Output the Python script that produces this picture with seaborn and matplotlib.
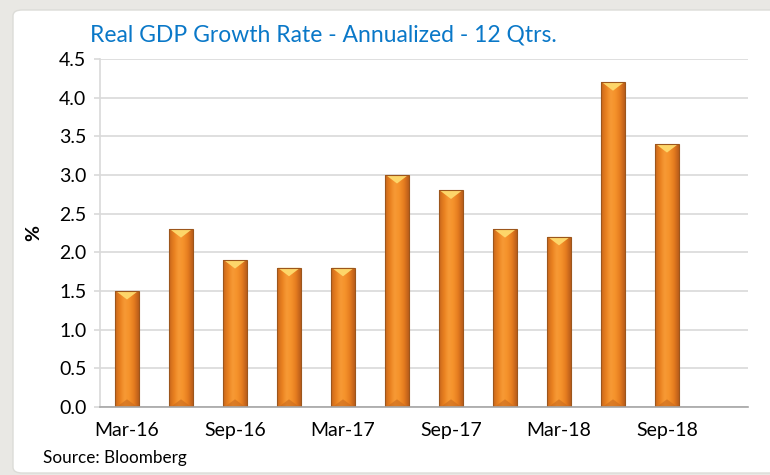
import matplotlib
matplotlib.use("Agg")
import matplotlib.pyplot as plt
import seaborn as sns
import numpy as np
import pandas as pd
from matplotlib.patches import FancyBboxPatch, Polygon
from matplotlib.colors import LinearSegmentedColormap

# ---- data ----
quarters = ["Mar-16", "Jun-16", "Sep-16", "Dec-16", "Mar-17", "Jun-17",
            "Sep-17", "Dec-17", "Mar-18", "Jun-18", "Sep-18", "Dec-18"]
gdp_growth = [1.5, 2.3, 1.9, 1.8, 1.8, 3.0, 2.8, 2.3, 2.2, 4.2, 3.4]
tick_labels = ["Mar-16", "", "Sep-16", "", "Mar-17", "", "Sep-17", "",
               "Mar-18", "", "Sep-18", ""]
title = "Real GDP Growth Rate - Annualized - 12 Qtrs."
source = "Source: Bloomberg"

sns.set_theme(style="white")
plt.rcParams["font.family"] = ["Lato", "DejaVu Sans"]

fig = plt.figure(figsize=(7.7, 4.75), dpi=100)
fig.patch.set_facecolor("#e9e8e4")
panel = FancyBboxPatch((13 / 770, 2 / 475), 770 / 770, 463 / 475,
                       boxstyle="round,pad=0,rounding_size=0.012",
                       transform=fig.transFigure, facecolor="white",
                       edgecolor="#dcdcd8", linewidth=1.0, zorder=-5)
fig.patches.append(panel)

ax = fig.add_axes([100 / 770, 1 - 407 / 475, 648 / 770, 348 / 475])
ax.set_facecolor("none")
ax.set_zorder(2)

df = pd.DataFrame({"q": quarters[:len(gdp_growth)], "v": gdp_growth})
sns.barplot(data=df, x="q", y="v", order=quarters[:len(gdp_growth)],
            color="#f28c28", width=0.43, ax=ax, zorder=3,
            edgecolor="#9c561c", linewidth=0.8)

# gradient fill + top highlight on each bar
cmap = LinearSegmentedColormap.from_list(
    "bar", ["#c9671d", "#e8801f", "#f79a35", "#f5922b", "#e57c1f", "#b95d1a"])
grad = np.linspace(0, 1, 64).reshape(1, -1)
for p in list(ax.patches):
    x0 = p.get_x(); w = p.get_width(); h = p.get_height()
    if not np.isfinite(h) or h <= 0:
        continue
    im = ax.imshow(grad, cmap=cmap, extent=[x0, x0 + w, 0, h],
                   aspect="auto", zorder=3.5, interpolation="bicubic")
    im.set_clip_path(p)
    tri = Polygon([[x0 + 0.02 * w, h], [x0 + 0.98 * w, h],
                   [x0 + w / 2, h - 0.11]], closed=True,
                  facecolor="#fdd66a", edgecolor="none", zorder=4)
    ax.add_patch(tri)
    tri2 = Polygon([[x0 + 0.05 * w, 0], [x0 + 0.95 * w, 0],
                    [x0 + w / 2, 0.1]], closed=True,
                   facecolor="#c96a1e", edgecolor="none", zorder=4, alpha=0.6)
    ax.add_patch(tri2)
    p.set_facecolor("none")
    p.set_zorder(5)

ax.set_xlim(-0.5, len(quarters) - 0.5)
ax.set_ylim(0, 4.5)
ax.set_aspect("auto")

ax.set_yticks(np.arange(0, 4.51, 0.5))
ax.set_yticklabels([f"{v:.1f}" for v in np.arange(0, 4.51, 0.5)],
                   fontsize=14, color="#000000")
ax.yaxis.grid(True, color="#d9d9d9", linewidth=1.2, zorder=0)
ax.set_axisbelow(True)

ax.set_xticks(range(len(quarters)))
ax.set_xticklabels(tick_labels, fontsize=14, color="#000000")
ax.set_xticks(np.arange(-0.5, len(quarters), 1.0), minor=True)
ax.tick_params(axis="x", which="major", length=0, pad=11)
ax.tick_params(axis="x", which="minor", length=5, color="#a6a6a6", width=1.2,
               direction="out")
ax.tick_params(axis="y", length=4.3, color="#d9d9d9", width=1.2, pad=5.5,
               left=True)

for s in ["top", "right"]:
    ax.spines[s].set_visible(False)
ax.spines["left"].set_color("#d9d9d9")
ax.spines["left"].set_linewidth(1.2)
ax.spines["bottom"].set_color("#a6a6a6")
ax.spines["bottom"].set_linewidth(1.2)
ax.spines["bottom"].set_zorder(6)

ax.set_xlabel("")
ax.set_ylabel("%", fontsize=14, fontweight="bold", color="#000000", labelpad=12)

fig.text(90 / 770, 1 - 35 / 475, title, fontsize=16.5, color="#0a78c8",
         ha="left", va="center")
fig.text(43 / 770, 1 - 458 / 475, source, fontsize=12.3, color="#000000",
         ha="left", va="center")

fig.savefig("out.png", dpi=100, facecolor=fig.get_facecolor())
